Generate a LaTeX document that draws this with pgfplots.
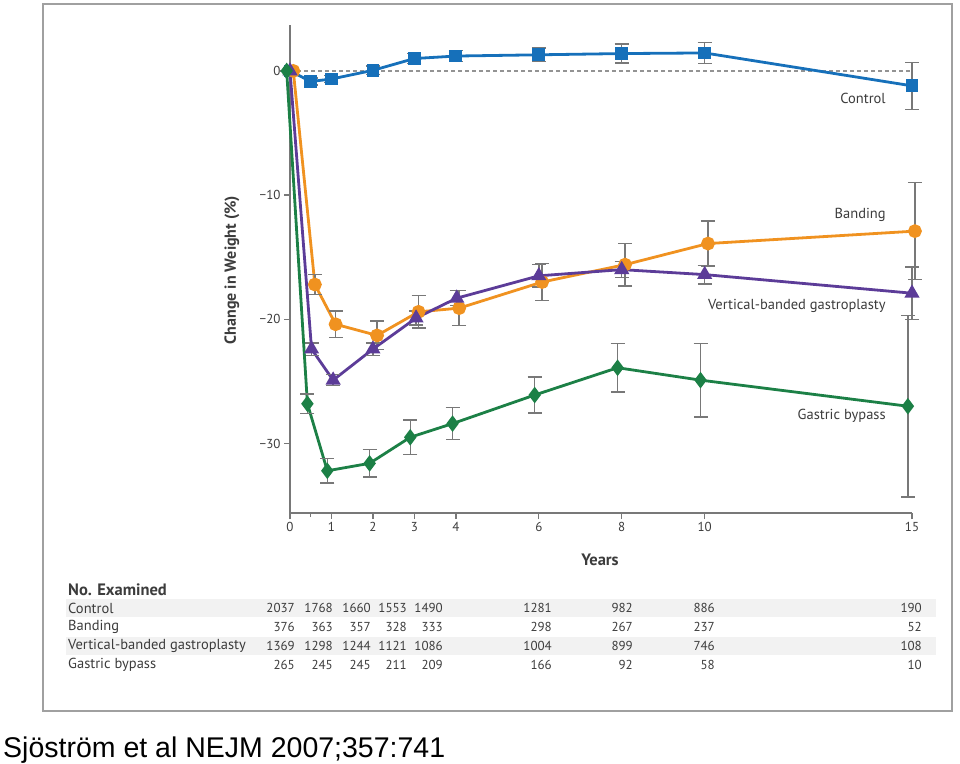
\documentclass[border=0pt]{standalone}
\usepackage{pgfplots}
\pgfplotsset{compat=1.18}
\usepackage{pgfplotstable}
\usepackage{fontspec}
\setmainfont{PT Sans}
\newfontfamily\capfont{Liberation Sans}
\definecolor{cblue}{RGB}{22,112,186}
\definecolor{corange}{RGB}{240,146,32}
\definecolor{cpurple}{RGB}{92,60,152}
\definecolor{cgreen}{RGB}{28,128,70}
\definecolor{ebar}{RGB}{120,120,120}
\definecolor{frame}{RGB}{160,160,160}
\definecolor{txt}{RGB}{60,60,60}
\definecolor{rowbg}{RGB}{242,242,242}

\pgfplotstableread{
x y e
0 0 0
0.5 -0.85 0.3
1 -0.65 0.3
2 0.05 0.35
3 1.0 0.4
4 1.2 0.45
6 1.3 0.55
8 1.4 0.75
10 1.45 0.85
15 -1.2 1.9
}\control
\pgfplotstableread{
x y e
0.08 0 0
0.6 -17.2 0.8
1.1 -20.4 1.05
2.1 -21.3 1.15
3.1 -19.4 1.3
4.08 -19.1 1.4
6.08 -17.0 1.5
8.08 -15.6 1.7
10.08 -13.9 1.8
15.07 -12.9 3.9
}\banding
\pgfplotstableread{
x y e
0 0 0
0.52 -22.4 0.5
1.04 -24.9 0.45
2.0 -22.4 0.5
3.04 -19.9 0.55
4.02 -18.3 0.6
6.0 -16.5 0.9
8.0 -16.0 0.65
10.0 -16.4 0.75
15.0 -17.9 2.1
}\vbg
\pgfplotstableread{
x y e
-0.08 0 0
0.42 -26.8 0.8
0.9 -32.2 1.0
1.92 -31.6 1.1
2.9 -29.5 1.4
3.92 -28.4 1.3
5.9 -26.1 1.45
7.9 -23.9 1.95
9.9 -24.9 2.95
14.9 -27.0 7.3
}\bypass

\begin{document}
\begin{tikzpicture}[x=1pt,y=-1pt]
\path[use as bounding box] (0,0) rectangle (960,763);
% frame
\draw[frame, line width=2.5pt] (43,4) rectangle (952,711);
% table shading
\fill[rowbg] (66,599) rectangle (936,617);
\fill[rowbg] (66,637) rectangle (936,655);

\begin{axis}[
  at={(290pt,-513pt)}, anchor=south west,
  scale only axis, width=622pt, height=488pt,
  xmin=0, xmax=15, ymin=-35.6, ymax=3.7,
  axis x line=bottom, axis y line=left,
  axis line style={-, ebar, line width=1.3pt},
  xtick={0,1,2,3,4,6,8,10,15},
  minor xtick={0.5},
  ytick={-30,-20,-10,0},
  yticklabels={−30,−20,−10,0},
  tick style={ebar, line width=1.3pt},
  major tick length=6pt, minor tick length=4pt,
  tick align=outside,
  /pgf/number format/assume math mode=true,
  tick label style={font=\fontsize{13}{15}\selectfont, text=txt},
  clip=false,
  error bars/y dir=both, error bars/y explicit,
  error bars/error bar style={ebar, line width=1.5pt},
  error bars/error mark options={ebar, line width=1.5pt, mark size=7pt, rotate=90},
]
\addplot[ebar!80, line width=2pt, dash pattern=on 4pt off 3pt, forget plot] coordinates {(0,0) (15,0)};
\addplot[cblue, line width=2.8pt, mark=square*, mark size=5pt] table[x=x,y=y,y error=e] {\control};
\addplot[corange, line width=2.8pt, mark=*, mark size=5.5pt] table[x=x,y=y,y error=e] {\banding};
\addplot[cpurple, line width=2.8pt, mark=triangle*, mark size=6pt] table[x=x,y=y,y error=e] {\vbg};
\addplot[cgreen, line width=2.8pt, mark=diamond*, mark size=6pt] table[x=x,y=y,y error=e] {\bypass};

\node[anchor=east, text=txt, font=\fontsize{14.5}{16}\selectfont] at (axis cs:14.45,-2.2) {Control};
\node[anchor=east, text=txt, font=\fontsize{14.5}{16}\selectfont] at (axis cs:14.45,-11.6) {Banding};
\node[anchor=east, text=txt, font=\fontsize{14.5}{16}\selectfont] at (axis cs:14.45,-18.9) {Vertical-banded gastroplasty};
\node[anchor=east, text=txt, font=\fontsize{14.5}{16}\selectfont] at (axis cs:14.45,-27.8) {Gastric bypass};
\end{axis}

% axis titles
\node[rotate=90, font=\bfseries\fontsize{16}{18}\selectfont, text=txt] at (232,270) {Change in Weight (\%)};
\node[font=\bfseries\fontsize{16.5}{18}\selectfont, text=txt] at (600,560) {Years};

% table
\begin{scope}[every node/.style={font=\fontsize{14.5}{16}\selectfont, text=txt, inner sep=0pt}]
\node[anchor=west, font=\bfseries\fontsize{16.5}{18}\selectfont] at (68,590) {No. Examined};
\node[anchor=west] at (68,608) {Control};
\node[anchor=west] at (68,627) {Banding};
\node[anchor=west] at (68,646) {Vertical-banded gastroplasty};
\node[anchor=west] at (68,665) {Gastric bypass};
\foreach \xx/\a/\b/\c/\d in {295/2037/376/1369/265, 333/1768/363/1298/245, 371/1660/357/1244/245, 407/1553/328/1121/211, 443/1490/333/1086/209, 552/1281/298/1004/166, 633/982/267/899/92, 715/886/237/746/58, 922/190/52/108/10}{
  \node[anchor=east, font=\fontsize{13}{15}\selectfont] at (\xx,608) {\a};
  \node[anchor=east, font=\fontsize{13}{15}\selectfont] at (\xx,627) {\b};
  \node[anchor=east, font=\fontsize{13}{15}\selectfont] at (\xx,646) {\c};
  \node[anchor=east, font=\fontsize{13}{15}\selectfont] at (\xx,665) {\d};
}
\end{scope}

% caption
\node[anchor=base west, inner sep=0pt, font=\capfont\fontsize{28.5}{32}\selectfont] at (3,757) {Sjöström et al NEJM 2007;357:741};
\end{tikzpicture}
\end{document}
